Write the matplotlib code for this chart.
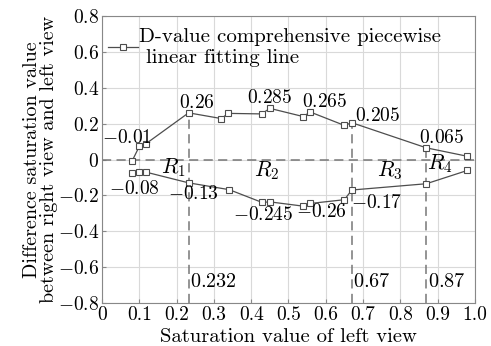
import matplotlib.pyplot as plt

plt.rcParams["mathtext.fontset"] = "cm"
plt.rcParams["font.family"] = ["cmr10", "DejaVu Serif"]
plt.rcParams["axes.formatter.use_mathtext"] = True

# --- data ---
x_upper = [0.08, 0.10, 0.117, 0.232, 0.32, 0.338, 0.428, 0.45, 0.54, 0.558, 0.65, 0.67, 0.87, 0.98]
y_upper = [-0.01, 0.074, 0.087, 0.26, 0.228, 0.257, 0.254, 0.285, 0.239, 0.265, 0.19, 0.205, 0.065, 0.018]
x_lower = [0.08, 0.10, 0.117, 0.232, 0.341, 0.429, 0.45, 0.54, 0.558, 0.65, 0.67, 0.87, 0.98]
y_lower = [-0.074, -0.067, -0.07, -0.13, -0.168, -0.239, -0.236, -0.26, -0.245, -0.224, -0.17, -0.135, -0.061]

bounds = [0.232, 0.67, 0.87]
bound_tops = [0.26, 0.205, 0.065]

upper_labels = ["-0.01", "0.26", "0.285", "0.265", "0.205", "0.065"]
upper_pos = [(0.066, 0.122), (0.255, 0.317), (0.45, 0.345), (0.598, 0.322), (0.739, 0.244), (0.91, 0.122)]
lower_labels = ["-0.08", "-0.13", "-0.245", "-0.26", "-0.17"]
lower_pos = [(0.087, -0.167), (0.245, -0.19), (0.433, -0.311), (0.588, -0.293), (0.736, -0.245)]
regions = ["$R_1$", "$R_2$", "$R_3$", "$R_4$"]
region_pos = [(0.19, -0.045), (0.442, -0.06), (0.772, -0.06), (0.905, -0.025)]

line_col = "#4d4d4d"
dash_col = "#777777"

fig = plt.figure(figsize=(4.91, 3.46), dpi=100)
ax = fig.add_axes([0.208, 0.124, 0.759, 0.830])

ax.grid(True, color="#d9d9d9", linewidth=0.8)
ax.set_axisbelow(True)

ax.axhline(0, color=dash_col, linestyle=(0, (6, 3.5)), linewidth=1.1)
for b, t in zip(bounds, bound_tops):
    ax.plot([b, b], [-0.8, t], color=dash_col, linestyle=(0, (6, 3.5)), linewidth=1.1)

ax.plot(x_upper, y_upper, color=line_col, linewidth=0.9, marker="s", markersize=4,
        markerfacecolor="white", markeredgecolor=line_col, markeredgewidth=0.8,
        label="D-value comprehensive piecewise\n linear fitting line")
ax.plot(x_lower, y_lower, color=line_col, linewidth=0.9, marker="s", markersize=4,
        markerfacecolor="white", markeredgecolor=line_col, markeredgewidth=0.8)

def num(s):
    return "$" + s + "$"

for s, (px, py) in zip(upper_labels, upper_pos):
    ax.text(px, py, num(s), ha="center", va="center", fontsize=14)
for s, (px, py) in zip(lower_labels, lower_pos):
    ax.text(px, py, num(s), ha="center", va="center", fontsize=14)
for b in bounds:
    ax.text(b + 0.004, -0.68, num(str(b)), ha="left", va="center", fontsize=14.5)
for s, (px, py) in zip(regions, region_pos):
    ax.text(px, py, s, ha="center", va="center", fontsize=15.5)

ax.set_xlim(0, 1.0)
ax.set_ylim(-0.8, 0.8)
ax.set_xticks([i / 10 for i in range(11)])
ax.set_xticklabels(["0", "0.1", "0.2", "0.3", "0.4", "0.5", "0.6", "0.7", "0.8", "0.9", "1.0"])
ax.set_yticks([-0.8, -0.6, -0.4, -0.2, 0, 0.2, 0.4, 0.6, 0.8])
ax.set_yticklabels([num(v) for v in ["-0.8", "-0.6", "-0.4", "-0.2", "0", "0.2", "0.4", "0.6", "0.8"]])
ax.tick_params(direction="in", length=3, labelsize=14, color="#888888", pad=2)
for sp in ax.spines.values():
    sp.set_color("#888888")

ax.set_xlabel("Saturation value of left view", fontsize=14.8, labelpad=3)
ax.set_ylabel("Difference saturation value\nbetween right view and left view", fontsize=14.5,
              labelpad=0, linespacing=0.95)

leg = ax.legend(loc="upper left", bbox_to_anchor=(0.0, 0.98), frameon=False, fontsize=15,
                handlelength=1.4, handletextpad=0.05, borderaxespad=0.0, borderpad=0.3)
leg.get_texts()[0].set_linespacing(1.2)

fig.savefig("out.png", dpi=100)
